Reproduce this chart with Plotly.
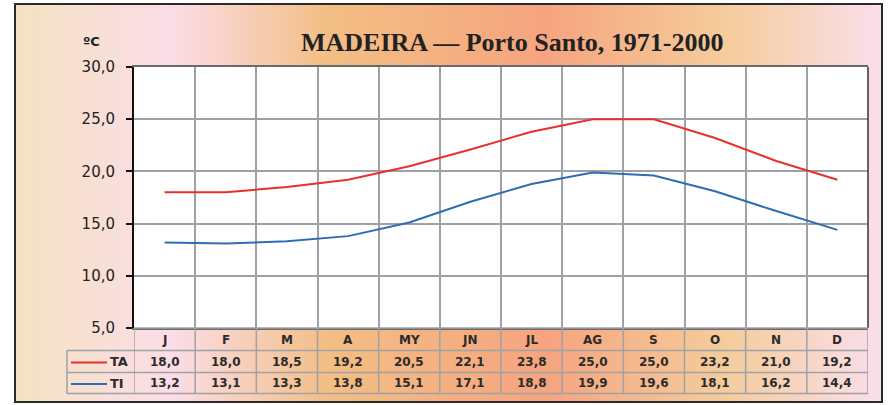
import base64
import plotly.graph_objects as go

# ---- data ----
months = ["J", "F", "M", "A", "MY", "JN", "JL", "AG", "S", "O", "N", "D"]
ta = [18.0, 18.0, 18.5, 19.2, 20.5, 22.1, 23.8, 25.0, 25.0, 23.2, 21.0, 19.2]
ti = [13.2, 13.1, 13.3, 13.8, 15.1, 17.1, 18.8, 19.9, 19.6, 18.1, 16.2, 14.4]
y_ticks = [5, 10, 15, 20, 25, 30]
series_names = ["TA", "TI"]
title_text = "MADEIRA — Porto Santo, 1971-2000"
unit_text = "ºC"

# ---- geometry (pixels) ----
W, H = 889, 405
L, R, T, B = 134, 868, 67, 328
PW, PH = R - L, B - T


def px(x):
    return (x - L) / PW


def py(y):
    return (B - y) / PH


RED = "#E8302F"
BLUE = "#2E6CB3"
GRID = "#9EA2A6"
TXT = "#2b2b2b"

# background gradient as svg image
stops = [(0.0, "#F5E2C2"), (0.18, "#FBDDE7"), (0.363, "#F3BE84"),
         (0.61, "#F6A47F"), (0.82, "#F5CC9C"), (1.0, "#FADFEC")]
FX0, FX1, FY0, FY1 = 15, 882, 4, 402
gw, gh = FX1 - FX0, FY1 - FY0
stop_xml = "".join(f"<stop offset='{o}' stop-color='{c}'/>" for o, c in stops)
svg = (f"<svg xmlns='http://www.w3.org/2000/svg' width='{gw}' height='{gh}' "
       f"viewBox='0 0 {gw} {gh}' preserveAspectRatio='none'><defs>"
       f"<linearGradient id='g' x1='0' y1='0' x2='1' y2='0'>{stop_xml}</linearGradient>"
       f"</defs><rect width='{gw}' height='{gh}' fill='url(#g)'/></svg>")
src = "data:image/svg+xml;base64," + base64.b64encode(svg.encode()).decode()

fig = go.Figure()
colors = [RED, BLUE]
for name, vals, col in zip(series_names, [ta, ti], colors):
    fig.add_trace(go.Scatter(x=months, y=vals, mode="lines", name=name,
                             line=dict(color=col, width=2), hoverinfo="skip"))

shapes = []
# white plot area
shapes.append(dict(type="rect", xref="x domain", yref="y domain", x0=0, x1=1, y0=0, y1=1,
                   fillcolor="white", line=dict(width=0), layer="below"))
# outer frame
shapes.append(dict(type="rect", xref="paper", yref="paper", x0=px(FX0), x1=px(FX1),
                   y0=py(FY1), y1=py(FY0), line=dict(color="#2a2a2a", width=2),
                   fillcolor="rgba(0,0,0,0)", layer="above"))
# right border of plot
shapes.append(dict(type="line", xref="x domain", yref="y domain", x0=1, x1=1, y0=0, y1=1,
                   line=dict(color="#333", width=1.5), layer="above"))

# table lines
row_lines = [350.5, 372.5, 393.5]
for yl in row_lines:
    shapes.append(dict(type="line", xref="paper", yref="paper", x0=px(67), x1=px(R),
                       y0=py(yl), y1=py(yl), line=dict(color=GRID, width=1.5)))
shapes.append(dict(type="line", xref="paper", yref="paper", x0=px(L), x1=px(R),
                   y0=py(B), y1=py(B), line=dict(color=GRID, width=1.5)))
for i in range(len(months) + 1):
    shapes.append(dict(type="line", xref="x", yref="paper", x0=i - 0.5, x1=i - 0.5,
                       y0=py(B), y1=py(393.5), line=dict(color=GRID, width=1.5)))
shapes.append(dict(type="line", xref="paper", yref="paper", x0=px(67), x1=px(67),
                   y0=py(350.5), y1=py(393.5), line=dict(color=GRID, width=1.5)))

annotations = []
row_centers = [361.5, 383]
tfont = dict(family="DejaVu Sans", size=12, color=TXT)
for i, m in enumerate(months):
    annotations.append(dict(x=m, y=py(339.5), xref="x", yref="paper", text=f"<b>{m}</b>",
                            showarrow=False, font=tfont, xanchor="center", yanchor="middle"))
for vals, yc in zip([ta, ti], row_centers):
    for m, v in zip(months, vals):
        annotations.append(dict(x=m, y=py(yc), xref="x", yref="paper",
                                text="<b>" + f"{v:.1f}".replace(".", ",") + "</b>",
                                showarrow=False, font=tfont, xanchor="center", yanchor="middle"))
# legend column
for name, col, yc in zip(series_names, colors, row_centers):
    shapes.append(dict(type="line", xref="paper", yref="paper", x0=px(71), x1=px(107),
                       y0=py(yc + 1), y1=py(yc + 1), line=dict(color=col, width=2)))
    annotations.append(dict(x=px(108), y=py(yc), xref="paper", yref="paper",
                            text=f"<b>{name}</b>", showarrow=False,
                            font=dict(family="DejaVu Sans", size=13, color=TXT),
                            xanchor="left", yanchor="middle"))
# title and unit
annotations.append(dict(x=px(512), y=py(43), xref="paper", yref="paper",
                        text=f"<b>{title_text}</b>", showarrow=False,
                        font=dict(family="Liberation Serif", size=26, color="#222"),
                        xanchor="center", yanchor="middle"))
annotations.append(dict(x=px(91), y=py(41), xref="paper", yref="paper",
                        text=f"<b>{unit_text}</b>", showarrow=False,
                        font=dict(family="DejaVu Sans", size=13, color="#222"),
                        xanchor="center", yanchor="middle"))

fig.update_layout(
    width=W, height=H,
    margin=dict(l=L, r=W - R, t=T, b=H - B, pad=0),
    paper_bgcolor="white",
    plot_bgcolor="rgba(0,0,0,0)",
    separators=",.",
    showlegend=False,
    shapes=shapes,
    annotations=annotations,
    images=[dict(source=src, xref="paper", yref="paper", x=px(FX0), y=py(FY0),
                 sizex=gw / PW, sizey=gh / PH, sizing="stretch", xanchor="left",
                 yanchor="top", layer="below")],
    xaxis=dict(type="category", range=[-0.5, len(months) - 0.5], tickson="boundaries",
               showgrid=True, gridcolor=GRID, gridwidth=1.5, showticklabels=False,
               ticks="", showline=True, linecolor="#6a6a6a", linewidth=1.5, mirror=True,
               zeroline=False, fixedrange=True),
    yaxis=dict(range=[5, 30], tickvals=y_ticks, tickformat=".1f", showgrid=True,
               gridcolor=GRID, gridwidth=1.5, ticks="outside", ticklen=6, tickwidth=1.5,
               tickcolor="#111", showline=True, linecolor="#111", linewidth=2,
               zeroline=False, ticklabelstandoff=8,
               tickfont=dict(family="DejaVu Sans", size=15, color="#222"), fixedrange=True),
)

fig.write_html("out.html", config={"displayModeBar": False},
               post_script="document.body.style.margin='0';")
